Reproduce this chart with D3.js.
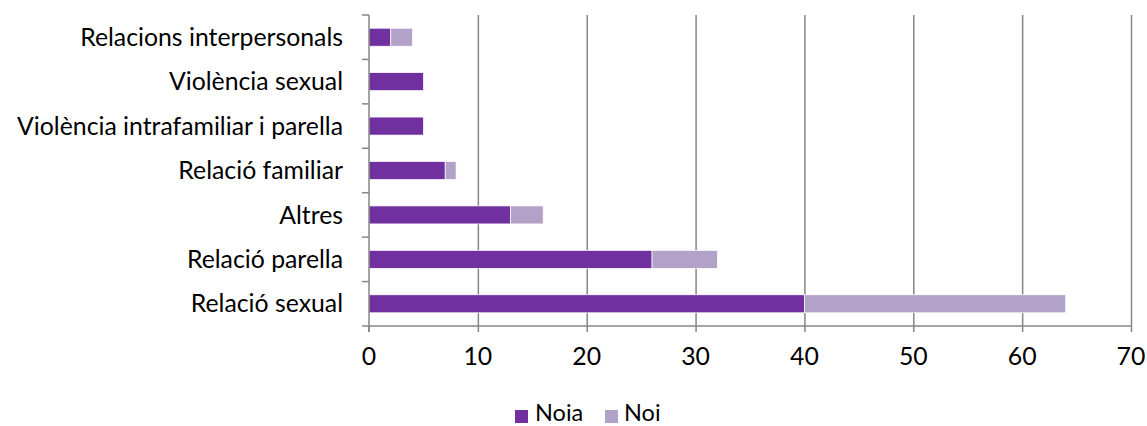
<!DOCTYPE html>
<html><head><meta charset="utf-8">
<script src="https://cdn.jsdelivr.net/npm/d3@7"></script>
<style>body{margin:0;background:#fff}svg{display:block}text{font-family:Lato,"Open Sans",sans-serif;fill:#000}</style>
</head><body><svg id="c" width="1147" height="426"></svg>
<script>
const categories = ["Relacions interpersonals","Violència sexual","Violència intrafamiliar i parella","Relació familiar","Altres","Relació parella","Relació sexual"];
const noia = [2,5,5,7,13,26,40];
const noi = [2,0,0,1,3,6,24];
const seriesNames = ["Noia","Noi"];
const colors = ["#7030A0","#B3A2C7"];
const xTicks = [0,10,20,30,40,50,60,70];

const FS = 24.8;
const svg = d3.select("#c");
const L = 369, R = 1131, T = 15, B = 326;
const x = d3.scaleLinear().domain([0,70]).range([L,R]);
const y = d3.scaleBand().domain(categories).range([T,B]).paddingInner(0.595).paddingOuter(0.2975);

// gridlines
svg.append("g").selectAll("line").data(xTicks.slice(1)).join("line")
  .attr("x1",d=>x(d)+0.5).attr("x2",d=>x(d)+0.5).attr("y1",T).attr("y2",B+6)
  .attr("stroke","#868686").attr("stroke-width",1.5);

const rows = categories.map((c,i)=>({c, v:[noia[i],noi[i]]}));
const stack = d3.stack().keys([0,1]).value((d,k)=>d.v[k])(rows);
svg.append("g").selectAll("g").data(stack).join("g").attr("fill",(d,i)=>colors[i])
  .selectAll("rect").data(d=>d.filter(p=>p[1]-p[0]>0)).join("rect")
  .attr("x",d=>x(d[0])).attr("width",d=>x(d[1])-x(d[0]))
  .attr("y",d=>y(d.data.c)).attr("height",y.bandwidth())
  .attr("stroke","#fff").attr("stroke-width",0.7);

// y axis line and ticks
const yAxis = svg.append("g");
yAxis.append("line").attr("x1",L).attr("x2",L).attr("y1",T).attr("y2",B+6).attr("stroke","#868686").attr("stroke-width",1.5);
const edges = d3.range(categories.length+1).map(i=>T+i*(B-T)/categories.length);
yAxis.selectAll("line.t").data(edges).join("line").attr("class","t")
  .attr("x1",L-7).attr("x2",L).attr("y1",d=>d).attr("y2",d=>d).attr("stroke","#868686").attr("stroke-width",1.5);
yAxis.selectAll("text").data(categories).join("text")
  .attr("x",343).attr("y",d=>y(d)+y.bandwidth()/2).attr("dy","0.35em")
  .attr("text-anchor","end").attr("font-size",FS).text(d=>d);

// x axis
svg.append("line").attr("x1",L).attr("x2",R+1).attr("y1",B).attr("y2",B).attr("stroke","#868686").attr("stroke-width",1.5);
svg.append("g").selectAll("line").data([0]).join("line")
  .attr("x1",x(0)).attr("x2",x(0)).attr("y1",B).attr("y2",B+6).attr("stroke","#868686").attr("stroke-width",1.5);
svg.append("g").selectAll("text").data(xTicks).join("text")
  .attr("x",d=>x(d)).attr("y",356).attr("dy","0.35em").attr("text-anchor","middle").attr("font-size",FS).text(d=>d);

// legend
const lg = svg.append("g");
const sx = [515,605], tx = [535,624];
seriesNames.forEach((n,i)=>{
  lg.append("rect").attr("x",sx[i]).attr("y",410).attr("width",13).attr("height",13).attr("fill",colors[i]);
  lg.append("text").attr("x",tx[i]).attr("y",421).attr("font-size",23.5).text(n);
});
</script></body></html>
